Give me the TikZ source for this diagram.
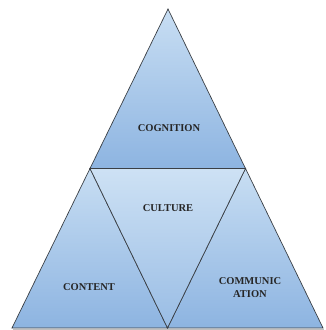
\documentclass[tikz,border=0pt]{standalone}
\usepackage{fontspec}
\setmainfont{Liberation Serif}
\usepackage{tikz}
\definecolor{paleblue}{HTML}{C8DEF3}
\definecolor{deepblue}{HTML}{8DB4E1}
\definecolor{edge}{HTML}{3A3F45}

\begin{document}
\begin{tikzpicture}[x=1pt,y=-1pt,
  tri/.style={draw=edge,line width=0.7pt,line join=miter,top color=paleblue,bottom color=deepblue},
  lbl/.style={font=\fontsize{10.5}{13}\selectfont\bfseries,text=black!85,align=center}
]
\useasboundingbox (0,0) rectangle (325,330);
% corners of the big triangle and its edge midpoints
\coordinate (apex) at (168,9);
\coordinate (bl) at (12,328);
\coordinate (br) at (323,328);
\coordinate (ml) at (90,168.5);
\coordinate (mr) at (245.5,168.5);
\coordinate (mb) at (167.5,328);

% soft shadow under the base
\fill[black!25] (13,329) -- (324,329) -- (324,330.5) -- (13,330.5) -- cycle;

\path[tri] (apex) -- (mr) -- (ml) -- cycle;
\path[tri] (ml) -- (mb) -- (bl) -- cycle;
\path[tri] (mr) -- (br) -- (mb) -- cycle;
\path[tri,top color=paleblue!90!white,bottom color=deepblue!80!paleblue] (ml) -- (mr) -- (mb) -- cycle;

\node[lbl] (cognition) at (169,128) {COGNITION};
\node[lbl] (culture) at (168,208) {CULTURE};
\node[lbl] (content) at (89,287) {CONTENT};
\node[lbl] (communication) at (250,288) {COMMUNIC\\ATION};
\end{tikzpicture}
\end{document}
